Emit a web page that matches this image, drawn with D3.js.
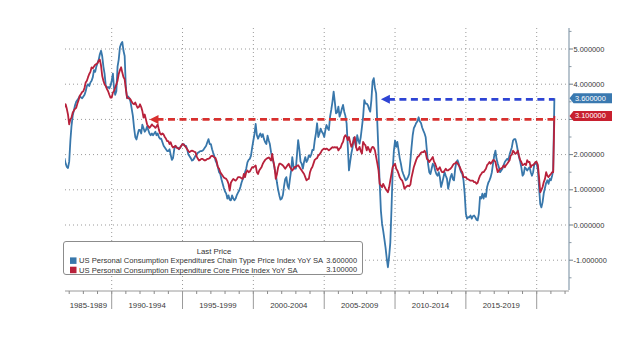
<!DOCTYPE html>
<html><head><meta charset="utf-8">
<script src="https://cdn.jsdelivr.net/npm/d3@7"></script>
<style>
body{margin:0;background:#fff}
svg{display:block}
text{font-family:"Liberation Sans",Arial,sans-serif}
</style>
</head><body>
<svg id="c" width="641" height="337"></svg>
<script>
// ---- data (monthly, YoY %) ----
const startMonth = "1986-09";
const headline = [
  1.9, 1.75, 1.65, 1.62,
  1.8, 2.4, 2.8, 3.1, 3.25, 3.4, 3.5, 3.55, 3.6, 3.67, 3.62, 3.6,
  3.65, 3.7, 3.8, 3.95, 4.0, 3.95, 4.05, 4.1, 4.2, 4.4, 4.35, 4.5,
  4.6, 4.7, 4.85, 4.95, 4.8, 4.5, 4.3, 3.95, 3.9, 3.92, 3.88, 3.95,
  4.1, 4.3, 3.9, 3.7, 3.8, 4.5, 4.7, 5.05, 5.15, 5.2, 4.95, 4.8,
  3.9, 3.6, 3.65, 3.6, 3.5, 3.3, 3.1, 2.76, 2.5, 2.43, 2.57, 2.7,
  2.7, 2.6, 2.85, 2.75, 2.65, 2.7, 2.8, 2.7, 2.6, 2.55, 2.6, 2.55,
  2.6, 2.65, 2.55, 2.6, 2.5, 2.45, 2.45, 2.35, 2.25, 2.2, 2.15, 2.1,
  2.1, 2.15, 2.0, 1.85, 1.9, 2.15, 2.25, 2.2, 2.2, 2.15, 2.2, 2.25,
  2.3, 2.3, 2.25, 2.25, 2.15, 2.0, 1.95, 1.9, 1.83, 1.85, 1.9, 1.97,
  2.0, 2.05, 2.07, 2.1, 2.1, 2.11, 2.15, 2.2, 2.25, 2.35, 2.44, 2.3,
  2.3, 2.15, 2.05, 1.95, 1.83, 1.75, 1.64, 1.5, 1.45, 1.3, 1.17, 1.05,
  0.95, 0.89, 0.75, 0.84, 0.72, 0.7, 0.84, 0.75, 0.7, 0.75, 0.85, 0.92,
  0.98, 1.08, 1.2, 1.3, 1.36, 1.5, 1.6, 1.78, 1.85, 1.88, 1.97, 2.2,
  2.4, 2.6, 2.87, 2.55, 2.45, 2.54, 2.6, 2.5, 2.58, 2.44, 2.35, 2.3,
  2.54, 2.4, 2.3, 2.07, 1.9, 1.8, 1.6, 1.45, 1.2, 1.0, 0.84, 0.72,
  0.75, 0.85, 1.1, 1.3, 1.36, 1.12, 1.03, 1.3, 1.55, 1.93, 1.65, 1.6,
  1.6, 2.03, 2.41, 2.15, 1.8, 1.74, 1.6, 1.8, 1.93, 1.79, 1.85, 1.98,
  1.93, 2.0, 2.13, 2.13, 2.4, 2.6, 2.89, 2.5, 2.6, 2.74, 2.65, 2.6,
  2.5, 2.7, 2.84, 2.75, 2.7, 3.08, 3.27, 3.5, 3.79, 3.5, 3.17, 3.2,
  3.36, 3.08, 3.17, 3.3, 3.41, 3.22, 3.1, 2.89, 2.22, 1.55, 1.8, 2.03,
  2.2, 2.48, 2.36, 2.22, 2.55, 2.4, 2.31, 2.5, 2.79, 3.08, 3.55, 3.45,
  3.45, 3.4, 3.3, 3.22, 3.55, 4.08, 4.17, 3.9, 3.74, 2.9, 2.03, 1.2,
  0.41, 0.03, -0.16, -0.4, -0.64, -0.95, -1.2, -0.9, -0.5, 0.45, 1.55, 2.1,
  2.4, 2.22, 2.36, 2.13, 1.9, 1.74, 1.55, 1.45, 1.36, 1.27, 1.3, 1.36,
  1.45, 1.84, 2.2, 2.55, 2.75, 2.82, 2.9, 2.95, 3.06, 2.95, 2.9, 2.77,
  2.68, 2.6, 2.49, 2.11, 1.74, 1.5, 1.45, 1.6, 1.74, 1.7, 1.55, 1.45,
  1.4, 1.5, 1.36, 1.08, 1.2, 1.35, 1.5, 1.4, 1.31, 1.03, 1.2, 1.36,
  1.45, 1.3, 1.27, 1.6, 1.79, 1.84, 1.74, 1.6, 1.5, 1.45, 1.27, 0.89,
  0.32, 0.18, 0.22, 0.22, 0.27, 0.18, 0.25, 0.27, 0.22, 0.15, 0.13, 0.32,
  0.8, 0.75, 0.89, 0.75, 0.89, 0.8, 1.08, 1.2, 1.27, 1.36, 1.5, 1.74,
  1.97, 2.11, 1.88, 1.75, 1.64, 1.5, 1.55, 1.6, 1.7, 1.79, 1.84, 1.88,
  1.84, 2.0, 2.1, 2.21, 2.4, 2.44, 2.44, 2.3, 2.11, 1.93, 1.8, 1.64,
  1.4, 1.45, 1.64, 1.6, 1.55, 1.6, 1.64, 1.5, 1.4, 1.5, 1.74, 1.74,
  1.74, 1.55, 1.08, 0.6, 0.5, 0.65, 0.9, 1.05, 1.2, 1.27, 1.17, 1.31,
  1.27, 1.4, 1.55, 3.6
];
const core = [
  3.35, 3.43, 3.3, 3.14,
  2.86, 3.0, 3.05, 3.19, 3.25, 3.3, 3.33, 3.45, 3.55, 3.67, 3.72, 3.78,
  3.8, 3.9, 4.05, 4.1, 4.2, 4.29, 4.35, 4.48, 4.45, 4.5, 4.55, 4.57,
  4.6, 4.67, 4.7, 4.53, 4.24, 4.1, 4.0, 3.95, 3.86, 3.8, 3.7, 3.62,
  3.62, 3.76, 3.81, 3.9, 4.0, 4.1, 4.29, 4.4, 4.48, 4.33, 4.2, 4.14,
  3.86, 3.62, 3.6, 3.6, 3.57, 3.5, 3.45, 3.43, 3.48, 3.4, 3.33, 3.35,
  3.43, 3.35, 3.24, 3.05, 3.14, 3.0, 2.86, 2.8, 2.76, 2.8, 2.86, 2.82,
  2.8, 2.76, 2.8, 2.86, 2.71, 2.6, 2.57, 2.6, 2.57, 2.5, 2.45, 2.38,
  2.38, 2.3, 2.35, 2.25, 2.2, 2.22, 2.25, 2.2, 2.18, 2.16, 2.2, 2.25,
  2.3, 2.28, 2.25, 2.2, 2.15, 2.1, 2.07, 2.1, 2.11, 2.1, 2.08, 2.07,
  1.95, 1.88, 1.83, 1.85, 1.88, 1.88, 1.85, 1.83, 1.85, 1.88, 1.88, 1.9,
  1.95, 1.97, 1.95, 1.92, 1.9, 1.8, 1.64, 1.6, 1.5, 1.45, 1.4, 1.35,
  1.33, 1.31, 1.26, 1.17, 0.98, 1.2, 1.26, 1.31, 1.28, 1.26, 1.3, 1.36,
  1.36, 1.35, 1.33, 1.31, 1.45, 1.36, 1.5, 1.55, 1.5, 1.52, 1.58, 1.64,
  1.64, 1.66, 1.69, 1.5, 1.45, 1.55, 1.6, 1.65, 1.74, 1.8, 1.85, 1.88,
  1.9, 1.92, 1.88, 1.83, 2.02, 1.8, 1.64, 1.31, 1.45, 1.64, 1.74, 1.74,
  1.72, 1.69, 1.65, 1.6, 1.65, 1.7, 1.74, 1.65, 1.6, 1.55, 1.6, 1.65,
  1.65, 1.68, 1.7, 1.65, 1.6, 1.55, 1.5, 1.45, 1.36, 1.27, 1.3, 1.31,
  1.5, 1.6, 1.65, 1.75, 1.85, 1.88, 1.9, 1.98, 2.0, 2.05, 2.12, 2.15,
  2.17, 2.15, 2.17, 2.15, 2.12, 2.15, 2.18, 2.21, 2.2, 2.21, 2.2, 2.21,
  2.12, 2.17, 2.2, 2.3, 2.36, 2.5, 2.55, 2.5, 2.41, 2.5, 2.35, 2.22,
  2.3, 2.41, 2.5, 2.22, 2.12, 2.15, 2.22, 2.1, 2.03, 2.36, 2.3, 2.26,
  2.12, 2.22, 2.15, 2.07, 2.17, 2.22, 2.2, 2.12, 1.93, 1.75, 1.55, 1.17,
  1.12, 1.07, 1.17, 1.1, 1.03, 0.98, 0.93, 1.07, 1.27, 1.45, 1.65, 1.7,
  1.74, 1.6, 1.55, 1.46, 1.36, 1.3, 1.27, 1.17, 1.03, 1.07, 1.1, 1.12,
  1.1, 1.15, 1.35, 1.5, 1.65, 1.75, 1.85, 1.93, 1.95, 2.0, 2.05, 2.07,
  2.07, 2.11, 2.05, 1.88, 1.85, 1.79, 1.84, 1.88, 1.93, 1.8, 1.74, 1.64,
  1.55, 1.6, 1.64, 1.55, 1.5, 1.5, 1.55, 1.6, 1.55, 1.55, 1.58, 1.6,
  1.64, 1.7, 1.74, 1.75, 1.79, 1.75, 1.7, 1.64, 1.55, 1.5, 1.36, 1.36,
  1.36, 1.31, 1.3, 1.28, 1.26, 1.26, 1.26, 1.22, 1.22, 1.17, 1.2, 1.31,
  1.4, 1.45, 1.5, 1.5, 1.55, 1.6, 1.7, 1.74, 1.79, 1.74, 1.78, 1.84,
  1.84, 1.79, 1.64, 1.5, 1.55, 1.6, 1.6, 1.64, 1.69, 1.64, 1.7, 1.74,
  1.79, 1.84, 1.97, 2.0, 2.11, 2.07, 2.02, 2.05, 2.11, 1.97, 1.85, 1.79,
  1.7, 1.72, 1.74, 1.7, 1.84, 1.79, 1.79, 1.64, 1.7, 1.7, 1.74, 1.79,
  1.79, 1.7, 1.36, 0.93, 1.0, 1.08, 1.22, 1.31, 1.5, 1.4, 1.36, 1.41,
  1.45, 1.5, 1.5, 3.1
];
const seriesNames = [
  "US Personal Consumption Expenditures Chain Type Price Index YoY SA",
  "US Personal Consumption Expenditure Core Price Index YoY SA"
];
const lastValues = [3.6, 3.1];
const lastLabels = ["3.600000", "3.100000"];
const arrowLevels = [3.57, 3.0];
const arrowStarts = ["2009-01", "1992-09"];
const periodLabels = ["1985-1989","1990-1994","1995-1999","2000-2004","2005-2009","2010-2014","2015-2019"];
const periodStarts = [1985,1990,1995,2000,2005,2010,2015,2020];
const yTicks = [-1,0,1,2,3,4,5];
const legendTitle = "Last Price";

// ---- styles ----
const C_BLUE = "#3877ab", C_RED = "#b8213b";
const C_BLUE_DASH = "#2e44d4", C_RED_DASH = "#d8302e";
const L = 65, R = 569, T = 28, B = 291;

const svg = d3.select("#c");
const parseM = d3.timeParse("%Y-%m");
const start = parseM(startMonth);
const dates = headline.map((_, i) => d3.timeMonth.offset(start, i));

const x = d3.scaleTime()
  .domain([new Date(1990,0,1), new Date(2020,0,1)])
  .range([111.7, 536.7]);
const y = d3.scaleLinear().domain([-1, 5]).range([260.2, 49]);

svg.append("rect").attr("width",641).attr("height",337).attr("fill","#fff");

svg.append("clipPath").attr("id","clip").append("rect")
  .attr("x",L).attr("y",T).attr("width",R-L).attr("height",B-T);

// grid
const grid = svg.append("g");
grid.selectAll(".hg").data(yTicks).join("line")
  .attr("x1",L).attr("x2",R).attr("y1",d=>y(d)).attr("y2",d=>y(d))
  .attr("stroke","#9a9a9a").attr("stroke-width",1).attr("stroke-dasharray","1,3");
const sepYears = periodStarts.filter(v => x(new Date(v,0,1)) > L && x(new Date(v,0,1)) < R);
grid.selectAll(".vg").data(sepYears).join("line")
  .attr("x1",d=>x(new Date(d,0,1))).attr("x2",d=>x(new Date(d,0,1)))
  .attr("y1",T).attr("y2",B)
  .attr("stroke","#9a9a9a").attr("stroke-width",1).attr("stroke-dasharray","1,3");

// series
const line = d3.line().x((d,i)=>x(dates[i])).y(d=>y(d));
const plot = svg.append("g").attr("clip-path","url(#clip)");
plot.append("path").datum(headline).attr("d",line)
  .attr("fill","none").attr("stroke",C_BLUE).attr("stroke-width",1.8).attr("stroke-linejoin","round");
plot.append("path").datum(core).attr("d",line)
  .attr("fill","none").attr("stroke",C_RED).attr("stroke-width",1.8).attr("stroke-linejoin","round");

// dashed arrows
const lastX = x(dates[dates.length-1]);
[[0,C_BLUE_DASH],[1,C_RED_DASH]].forEach(([k,col])=>{
  const tip = x(parseM(arrowStarts[k]));
  const yy = y(arrowLevels[k]);
  svg.append("line").attr("x1",tip+7).attr("x2",lastX).attr("y1",yy).attr("y2",yy)
    .attr("stroke",col).attr("stroke-width",2.6).attr("stroke-dasharray","7,4.5");
  svg.append("path").attr("d",`M${tip},${yy} L${tip+9},${yy-4.5} L${tip+9},${yy+4.5} Z`)
    .attr("fill",col);
});

// right axis
const ax = svg.append("g");
ax.append("line").attr("x1",R).attr("x2",R).attr("y1",T).attr("y2",B-1)
  .attr("stroke","#a7b6c2").attr("stroke-width",1.6);
const minor = d3.range(-1.5, 5.6, 0.5).filter(v => !Number.isInteger(v));
ax.selectAll(".mt").data(minor).join("line")
  .attr("x1",R).attr("x2",R+2.5).attr("y1",d=>y(d)).attr("y2",d=>y(d))
  .attr("stroke","#8a9aa6").attr("stroke-width",1);
ax.selectAll(".Mt").data(yTicks).join("line")
  .attr("x1",R).attr("x2",R+4).attr("y1",d=>y(d)).attr("y2",d=>y(d))
  .attr("stroke","#6f7f8a").attr("stroke-width",1);
// labels hidden by the last-value tags are not drawn
const covered = d => lastValues.some(v => Math.abs(y(v) - y(d)) < 9);
ax.selectAll(".tl").data(yTicks.filter(d => !covered(d))).join("text")
  .attr("x",R+4.5).attr("y",d=>y(d)).attr("dy","0.35em")
  .attr("font-size",7.4).attr("fill","#3a3a3a")
  .text(d=>d.toFixed(6));

// last value tags
[[0,"#3a79b0"],[1,"#c8202f"]].forEach(([k,col])=>{
  const cy = y(lastValues[k]);
  const h = 5;
  svg.append("path")
    .attr("d",`M${R+0.5},${cy} L${R+4.5},${cy-h} L${R+43},${cy-h} L${R+43},${cy+h} L${R+4.5},${cy+h} Z`)
    .attr("fill",col);
  svg.append("text").attr("x",R+6).attr("y",cy).attr("dy","0.35em")
    .attr("font-size",7.4).attr("fill","#fff").text(lastLabels[k]);
});

// bottom axis
const bx = svg.append("g");
bx.append("line").attr("x1",L).attr("x2",R).attr("y1",B).attr("y2",B)
  .attr("stroke","#9a9a9a").attr("stroke-width",1);
const yearTicks = d3.timeYear.range(new Date(1986,0,1), new Date(2023,0,1))
  .filter(d => x(d) >= L && x(d) <= R);
bx.selectAll(".yt").data(yearTicks).join("line")
  .attr("x1",d=>x(d)).attr("x2",d=>x(d)).attr("y1",B).attr("y2",B+3)
  .attr("stroke","#8a8a8a").attr("stroke-width",1);
bx.selectAll(".sep").data(sepYears).join("line")
  .attr("x1",d=>x(new Date(d,0,1))).attr("x2",d=>x(new Date(d,0,1)))
  .attr("y1",B).attr("y2",B+18)
  .attr("stroke","#9a9a9a").attr("stroke-width",1);
bx.selectAll(".pl").data(periodLabels).join("text")
  .attr("x",(d,i)=>{
    const a = Math.max(L, x(new Date(periodStarts[i],0,1)));
    const b = Math.min(R, x(new Date(periodStarts[i+1],0,1)));
    return (a+b)/2;
  })
  .attr("y",B+14.7).attr("dy","0.35em").attr("text-anchor","middle")
  .attr("font-size",7.8).attr("fill","#3a3a3a").text(d=>d);

// legend
const lg = svg.append("g");
lg.append("rect").attr("x",63.5).attr("y",241.5).attr("width",299).attr("height",33)
  .attr("rx",2.5).attr("fill","#fff").attr("stroke","#8c8c8c").attr("stroke-width",1);
lg.append("text").attr("x",214).attr("y",251.2).attr("dy","0.35em").attr("text-anchor","middle")
  .attr("font-size",7.8).attr("fill","#333").text(legendTitle);
[C_BLUE, C_RED].forEach((col,k)=>{
  const cy = 260.6 + k*9.3;
  lg.append("rect").attr("x",70).attr("y",cy-3.2).attr("width",6.5).attr("height",6.5).attr("fill",col);
  lg.append("text").attr("x",79).attr("y",cy).attr("dy","0.35em")
    .attr("font-size",7.6).attr("fill","#333").text(seriesNames[k]);
  lg.append("text").attr("x",357).attr("y",cy).attr("dy","0.35em").attr("text-anchor","end")
    .attr("font-size",7.4).attr("fill","#333").text(lastLabels[k]);
});
</script>
</body></html>
